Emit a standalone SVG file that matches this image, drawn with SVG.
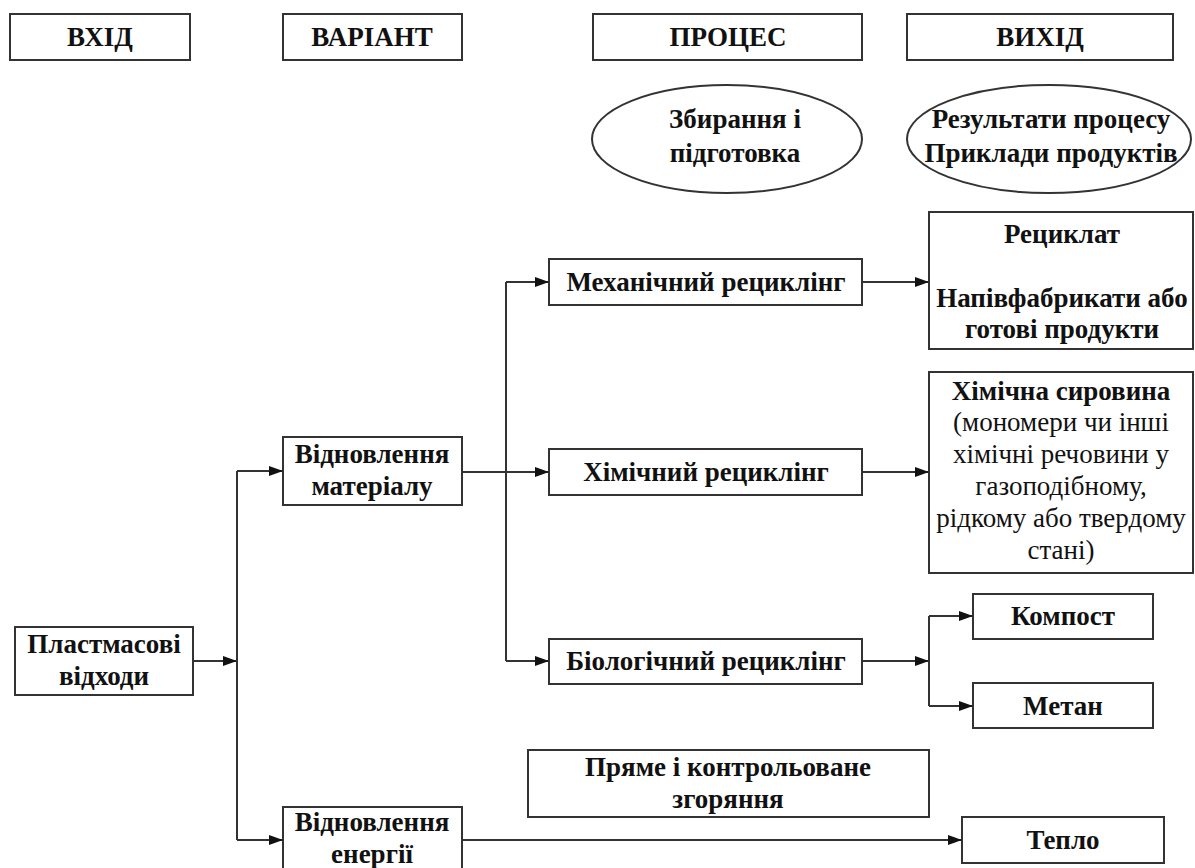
<svg xmlns="http://www.w3.org/2000/svg" width="1195" height="868" viewBox="0 0 1195 868">
  <style>
    .box { fill: #ffffff; stroke: #333333; stroke-width: 2; }
    .t { font-family: "Liberation Serif", "Times New Roman", "DejaVu Serif", serif; font-size: 27px; font-weight: bold; fill: #111111; text-anchor: middle; }
    .r { font-weight: normal; }
    .wire { fill: none; stroke: #333333; stroke-width: 2; }
  </style>
  <defs>
    <marker id="arrow" viewBox="0 0 14 10" refX="14" refY="5" markerWidth="14" markerHeight="10" markerUnits="userSpaceOnUse" orient="auto">
      <path d="M0,0 L14,5 L0,10 Z" fill="#111111"/>
    </marker>
  </defs>
  <rect width="1195" height="868" fill="#ffffff"/>

  <!-- column headers -->
  <g id="hdr-input"><rect class="box" x="10" y="14" width="180" height="46"/><text class="t" x="100" y="46">ВХІД</text></g>
  <g id="hdr-variant"><rect class="box" x="283" y="14" width="179" height="46"/><text class="t" x="372" y="46">ВАРІАНТ</text></g>
  <g id="hdr-process"><rect class="box" x="593" y="14" width="269" height="46"/><text class="t" x="728" y="46">ПРОЦЕС</text></g>
  <g id="hdr-output"><rect class="box" x="907" y="14" width="266" height="46"/><text class="t" x="1040" y="46">ВИХІД</text></g>

  <!-- ellipses -->
  <g id="ell-collect">
    <ellipse class="box" cx="727" cy="139" rx="135" ry="54"/>
    <text class="t" x="735" y="128">Збирання і</text>
    <text class="t" x="735" y="162">підготовка</text>
  </g>
  <g id="ell-results">
    <ellipse class="box" cx="1049" cy="139" rx="142" ry="54"/>
    <text class="t" x="1051" y="128">Результати процесу</text>
    <text class="t" x="1051" y="162">Приклади продуктів</text>
  </g>

  <!-- input -->
  <g id="n-waste">
    <rect class="box" x="15" y="627" width="178" height="68"/>
    <text class="t" x="104" y="653">Пластмасові</text>
    <text class="t" x="104" y="685">відходи</text>
  </g>

  <!-- variants -->
  <g id="n-material">
    <rect class="box" x="283" y="437" width="179" height="68"/>
    <text class="t" x="372" y="463">Відновлення</text>
    <text class="t" x="372" y="495">матеріалу</text>
  </g>
  <g id="n-energy">
    <rect class="box" x="283" y="807" width="179" height="70"/>
    <text class="t" x="372" y="831">Відновлення</text>
    <text class="t" x="372" y="863">енергії</text>
  </g>

  <!-- processes -->
  <g id="n-mech">
    <rect class="box" x="549" y="259" width="313" height="46"/>
    <text class="t" x="706" y="291">Механічний рециклінг</text>
  </g>
  <g id="n-chem">
    <rect class="box" x="549" y="449" width="313" height="46"/>
    <text class="t" x="706" y="481">Хімічний рециклінг</text>
  </g>
  <g id="n-bio">
    <rect class="box" x="549" y="639" width="313" height="45"/>
    <text class="t" x="706" y="670">Біологічний рециклінг</text>
  </g>
  <g id="n-burn">
    <rect class="box" x="528" y="750" width="401" height="67"/>
    <text class="t" x="728" y="776">Пряме і контрольоване</text>
    <text class="t" x="728" y="808">згоряння</text>
  </g>

  <!-- outputs -->
  <g id="n-recyclate">
    <rect class="box" x="929" y="212" width="264" height="137"/>
    <text class="t" x="1062" y="243">Рециклат</text>
    <text class="t" x="1062" y="307">Напівфабрикати або</text>
    <text class="t" x="1062" y="338">готові продукти</text>
  </g>
  <g id="n-feedstock">
    <rect class="box" x="929" y="372" width="264" height="201"/>
    <text class="t" x="1061" y="400">Хімічна сировина</text>
    <text class="t r" x="1061" y="431">(мономери чи інші</text>
    <text class="t r" x="1061" y="463">хімічні речовини у</text>
    <text class="t r" x="1061" y="495">газоподібному,</text>
    <text class="t r" x="1061" y="527">рідкому або твердому</text>
    <text class="t r" x="1061" y="559">стані)</text>
  </g>
  <g id="n-compost">
    <rect class="box" x="973" y="594" width="180" height="45"/>
    <text class="t" x="1063" y="625">Компост</text>
  </g>
  <g id="n-methane">
    <rect class="box" x="973" y="683" width="180" height="45"/>
    <text class="t" x="1063" y="715">Метан</text>
  </g>
  <g id="n-heat">
    <rect class="box" x="962" y="817" width="202" height="46"/>
    <text class="t" x="1063" y="849">Тепло</text>
  </g>

  <!-- connectors -->
  <g id="connectors">
    <path class="wire" d="M193,661 H237" marker-end="url(#arrow)"/>
    <path class="wire" d="M237,471 V840"/>
    <path class="wire" d="M237,471 H283" marker-end="url(#arrow)"/>
    <path class="wire" d="M237,840 H283" marker-end="url(#arrow)"/>
    <path class="wire" d="M462,472 H549" marker-end="url(#arrow)"/>
    <path class="wire" d="M506,282 V661"/>
    <path class="wire" d="M506,282 H549" marker-end="url(#arrow)"/>
    <path class="wire" d="M506,661 H549" marker-end="url(#arrow)"/>
    <path class="wire" d="M862,282 H929" marker-end="url(#arrow)"/>
    <path class="wire" d="M862,472 H929" marker-end="url(#arrow)"/>
    <path class="wire" d="M862,661 H929" marker-end="url(#arrow)"/>
    <path class="wire" d="M929,616 V706"/>
    <path class="wire" d="M929,616 H973" marker-end="url(#arrow)"/>
    <path class="wire" d="M929,706 H973" marker-end="url(#arrow)"/>
    <path class="wire" d="M462,840 H962" marker-end="url(#arrow)"/>
  </g>
</svg>
